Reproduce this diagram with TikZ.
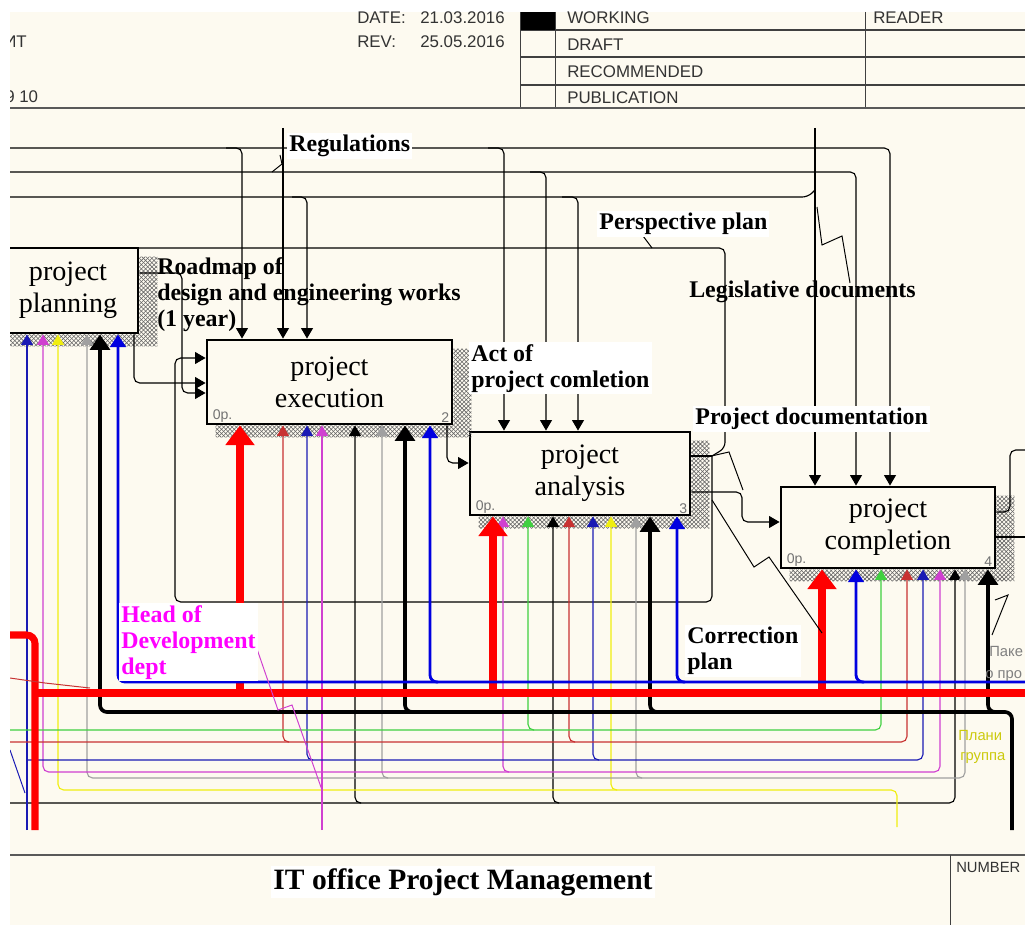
\documentclass[tikz,border=0pt]{standalone}
\usepackage{fontspec}
\setmainfont{Liberation Serif}
\newfontfamily\headfont{Liberation Sans}
\usetikzlibrary{arrows.meta,patterns}
\definecolor{paper}{HTML}{FDFAF0}
\definecolor{idefred}{HTML}{FF0000}
\definecolor{idefbrown}{HTML}{C83232}
\definecolor{idefblue}{HTML}{1A1AB4}
\definecolor{busblue}{HTML}{0000E0}
\definecolor{idefmag}{HTML}{D040D0}
\definecolor{idefgreen}{HTML}{40D040}
\definecolor{idefgray}{HTML}{A0A0A0}
\definecolor{idefyel}{HTML}{F0EE10}
\definecolor{labelmag}{HTML}{FF00FF}

\begin{document}
\begin{tikzpicture}[
  x=0.025cm,
  y=-0.025cm,
  >={Triangle[width=8.5pt,length=7.5pt]},
  every node/.style={inner sep=0pt},
  sheet/.style={draw=black!75, line width=0.7pt},
  sheetrule/.style={draw=black!65, line width=2pt},
  headtxt/.style={font=\headfont\fontsize{12}{13}\selectfont, text=black!80,
                  anchor=base west},
  edgetxt/.style={headtxt, font=\headfont\fontsize{10.5}{12}\selectfont},
  activity/.style={draw=black, line width=2pt, fill=paper, align=center,
                   font=\fontsize{20}{23}\selectfont},
  boxtag/.style={font=\headfont\fontsize{10}{10}\selectfont, text=black!55},
  hatch/.style={pattern=crosshatch, pattern color=black!60},
  wire/.style={line width=0.8pt, rounded corners=4pt},
  ctl/.style={wire, ->},
  mech/.style={line width=0.8pt, rounded corners=4pt, ->},
  mechboth/.style={line width=0.8pt, rounded corners=4pt, <->},
  redbus/.style={idefred, line width=5pt, rounded corners=6pt},
  bigred/.style={redbus, -{Triangle[width=20pt,length=14pt]}},
  blackbus/.style={black, line width=2.6pt, rounded corners=5pt},
  bigblack/.style={blackbus, -{Triangle[width=14pt,length=11pt]}},
  bluebus/.style={busblue, line width=2pt, rounded corners=5pt},
  bigblue/.style={bluebus, -{Triangle[width=11pt,length=9pt]}},
  lbl/.style={font=\bfseries\fontsize{17}{18.5}\selectfont, align=left},
  patch/.style={fill=white, inner sep=1.5pt},
  leader/.style={line width=0.7pt}
]
  \useasboundingbox (0,0) rectangle (1025,925);
  \fill[white] (0,0) rectangle (1025,925);
  \fill[paper] (10,12) rectangle (1025,925);

  \begin{scope}
  \clip (10,12) rectangle (1025,925);

  % ---- sheet header ------------------------------------------------------
  \draw[sheet] (520,12) -- (520,108) (555,12) -- (555,108) (865,12) -- (865,108);
  \draw[sheet, line width=1.3pt] (520,30) -- (1025,30) (520,57) -- (1025,57)
    (520,85) -- (1025,85);
  \fill[black] (521,12) rectangle (555,30);
  \draw[sheetrule] (10,108) -- (1025,108);

  \node[headtxt] (unit) at (4,48) {ИТ};
  \node[headtxt] (pages) at (5,103) {9 10};
  \node[headtxt] (datekey) at (357,24) {DATE:};
  \node[headtxt] (dateval) at (420,24) {21.03.2016};
  \node[headtxt] (revkey) at (357,48) {REV:};
  \node[headtxt] (revval) at (420,48) {25.05.2016};
  \node[headtxt] (working) at (567,24) {WORKING};
  \node[headtxt] (draft) at (567,51) {DRAFT};
  \node[headtxt] (recom) at (567,78) {RECOMMENDED};
  \node[headtxt] (publ) at (567,104) {PUBLICATION};
  \node[headtxt] (reader) at (873,24) {READER};

  % ---- sheet footer ------------------------------------------------------
  \draw[sheetrule] (10,855) -- (1025,855);
  \draw[sheet] (950,855) -- (950,925);
  \node[font=\bfseries\fontsize{21}{22}\selectfont, patch] (title) at (463,882)
    {IT office Project Management};
  \node[edgetxt] (number) at (956,872) {NUMBER};

  % ---- the four activities -----------------------------------------------
  \node[activity, minimum width=3.5cm, minimum height=2.125cm] (plan)
    at (68,290.5) {project\\planning};
  \node[activity, minimum width=6.125cm, minimum height=2.1cm] (exec)
    at (329.5,382) {project\\execution};
  \node[activity, minimum width=5.5cm, minimum height=2.075cm] (anal)
    at (580,473.5) {project\\analysis};
  \node[activity, minimum width=5.35cm, minimum height=2.025cm] (compl)
    at (888,527.5) {project\\completion};

  % shaded edge on the right and below every box
  \foreach \b in {plan, exec, anal, compl}
    \fill[hatch] ([shift={(0,10)}]\b.north east) -- ([shift={(18,10)}]\b.north east)
      -- ([shift={(18,12)}]\b.south east) -- ([shift={(10,12)}]\b.south west)
      -- ([shift={(10,0)}]\b.south west) -- (\b.south east) -- cycle;

  \foreach \b/\n in {exec/2, anal/3, compl/4} {
    \node[boxtag, anchor=south west] (\b-op) at ([shift={(7,-3)}]\b.south west) {0р.};
    \node[boxtag, anchor=south east] (\b-no) at ([shift={(-4,-3)}]\b.south east) {\n};
  }

  % ---- controls, coming down from the top --------------------------------
  \draw[ctl] (10,148) -| (890,0 |- compl.north);
  \draw[ctl] (226,148) -| (242,0 |- exec.north);
  \draw[ctl] (488,148) -| (504,0 |- anal.north);
  \draw[ctl] (10,172) -| (856,0 |- compl.north);
  \draw[ctl] (530,172) -| (546,0 |- anal.north);
  \draw[wire] (10,197) -- (808,197) -- (815,190);
  \draw[ctl] (292,197) -| (307,0 |- exec.north);
  \draw[ctl] (562,197) -| (578,0 |- anal.north);
  \draw[ctl] (283,128) -- (283,0 |- exec.north);
  \draw[ctl] (815,128) -- (815,0 |- compl.north);
  \draw[black, line width=2pt] (815,188) -- (815,212);
  \draw[wire] (10,248) -- (725,248) -- (725,448) -- (712,456);

  % ---- outputs between the boxes -----------------------------------------
  \draw[ctl] (plan.east |- 0,273) -- (182,273) -- (182,393) -- (exec.west |- 0,393);
  \draw[ctl] (134,0 |- plan.south) -- (134,383) -- (exec.west |- 0,383);
  \draw[ctl] (447,0 |- exec.south) -- (447,463) -- (anal.west |- 0,463);
  \draw[wire] (anal.east |- 0,456) -- (712,456);
  \draw[ctl] (712,456) -- (712,602) -- (175,602) -- (175,358) -- (exec.west |- 0,358);
  \draw[ctl] (anal.east |- 0,492) -- (742,492) -- (742,522) -- (compl.west |- 0,522);
  \draw[wire] (compl.east |- 0,512) -- (1010,512) -- (1010,450) -- (1025,450);
  \draw[wire] (compl.east |- 0,537) -- (1025,537);

  % ---- mechanisms, coming up from below ----------------------------------
  % black thin
  \draw[mech] (10,803) -| (955,0 |- compl.south);
  \foreach \x/\b in {355/exec, 553/anal}
    \draw[mech] ({\x+6},803) -| (\x,0 |- \b.south);
  % yellow
  \draw[mech, idefyel] (897,827) -- (897,790) -- (58,790) -- (58,0 |- plan.south);
  \draw[mech, idefyel] (617,790) -| (611,0 |- anal.south);
  % grey
  \draw[mechboth, idefgray] (87,0 |- plan.south) -- (87,778) -- (965,778)
    -- (965,0 |- compl.south);
  \foreach \x/\b in {382/exec, 636/anal}
    \draw[mech, idefgray] ({\x+6},778) -| (\x,0 |- \b.south);
  % magenta
  \draw[mechboth, idefmag] (43,0 |- plan.south) -- (43,772) -- (940,772)
    -- (940,0 |- compl.south);
  \draw[mech, idefmag] (322,830) -- (322,0 |- exec.south);
  \draw[mech, idefmag] (509,772) -| (503,0 |- anal.south);
  % blue thin
  \draw[mech, idefblue] (27,830) -- (27,0 |- plan.south);
  \draw[mech, idefblue] (27,760) -| (923,0 |- compl.south);
  \foreach \x/\b in {307/exec, 593/anal}
    \draw[mech, idefblue] ({\x+6},760) -| (\x,0 |- \b.south);
  % red thin
  \draw[mech, idefbrown] (10,742) -| (907,0 |- compl.south);
  \foreach \x/\b in {283/exec, 569/anal}
    \draw[mech, idefbrown] ({\x+6},742) -| (\x,0 |- \b.south);
  % green
  \draw[mech, idefgreen] (10,730) -| (881,0 |- compl.south);
  \draw[mech, idefgreen] (534,730) -| (528,0 |- anal.south);
  % black heavy
  \draw[bigblack] (1012,830) -- (1012,712) -- (988,712) -- (988,0 |- compl.south);
  \draw[bigblack] (1000,712) -- (100,712) -- (100,0 |- plan.south);
  \foreach \x/\b in {405/exec, 650/anal}
    \draw[bigblack] ({\x+8},712) -| (\x,0 |- \b.south);
  % red heavy
  \draw[redbus] (10,635) -- (35,635) -- (35,830);
  \draw[redbus] (35,693) -- (1025,693);
  \foreach \x/\b in {240/exec, 493/anal, 822/compl}
    \draw[bigred] (\x,693) -- (\x,0 |- \b.south);
  % blue heavy
  \draw[bigblue] (1025,682) -- (118,682) -- (118,0 |- plan.south);
  \foreach \x/\b in {430/exec, 677/anal, 856/compl}
    \draw[bigblue] ({\x+8},682) -| (\x,0 |- \b.south);

  % stray strokes at the left edge
  \draw[leader, idefbrown] (10,678) -- (45,683) -- (90,688);
  \draw[leader, idefblue] (10,750) -- (25,793);

  % ---- labels and their leaders ------------------------------------------
  \draw[leader] (272,172) -- (282,164) -- (280,155);
  \draw[leader] (643,236) -- (749,235);
  \draw[leader] (643,236) -- (652,248);
  \draw[leader] (817,207) -- (822,245) -- (842,236) -- (850,283);
  \draw[leader] (707,457) -- (729,452) -- (743,490);
  \draw[leader] (712,500) -- (754,567) -- (769,557) -- (822,633);
  \draw[leader] (992,635) -- (1008,595) -- (995,600);
  \draw[leader, idefmag] (247,620) -- (278,710) -- (292,705) -- (322,790);

  \node[lbl, patch, anchor=west] (regs) at (287,146) {Regulations};
  \node[lbl, anchor=north west] (roadmap) at (157,257)
    {Roadmap of\\design and engineering works\\(1 year)};
  \node[lbl, patch, anchor=north west] (actof) at (469,342)
    {Act of\\project comletion};
  \node[lbl, patch, anchor=west] (persp) at (597,224) {Perspective plan};
  \node[lbl, anchor=west] (legis) at (689,292) {Legislative documents};
  \node[lbl, patch, anchor=west] (projdoc) at (693,419) {Project documentation};
  \node[lbl, patch, anchor=north west] (corr) at (685,625) {Correction\\plan};
  \node[lbl, patch, text=labelmag, anchor=north west] (head) at (119,603)
    {Head of\\Development\\dept};

  \node[edgetxt, text=black!50] (pkg1) at (989,656) {Паке};
  \node[edgetxt, text=black!50] (pkg2) at (985,678) {о про};
  \node[edgetxt, text=idefyel!85!black] (grp1) at (958,740) {Плани};
  \node[edgetxt, text=idefyel!85!black] (grp2) at (960,760) {группа};
  \end{scope}
\end{tikzpicture}
\end{document}
